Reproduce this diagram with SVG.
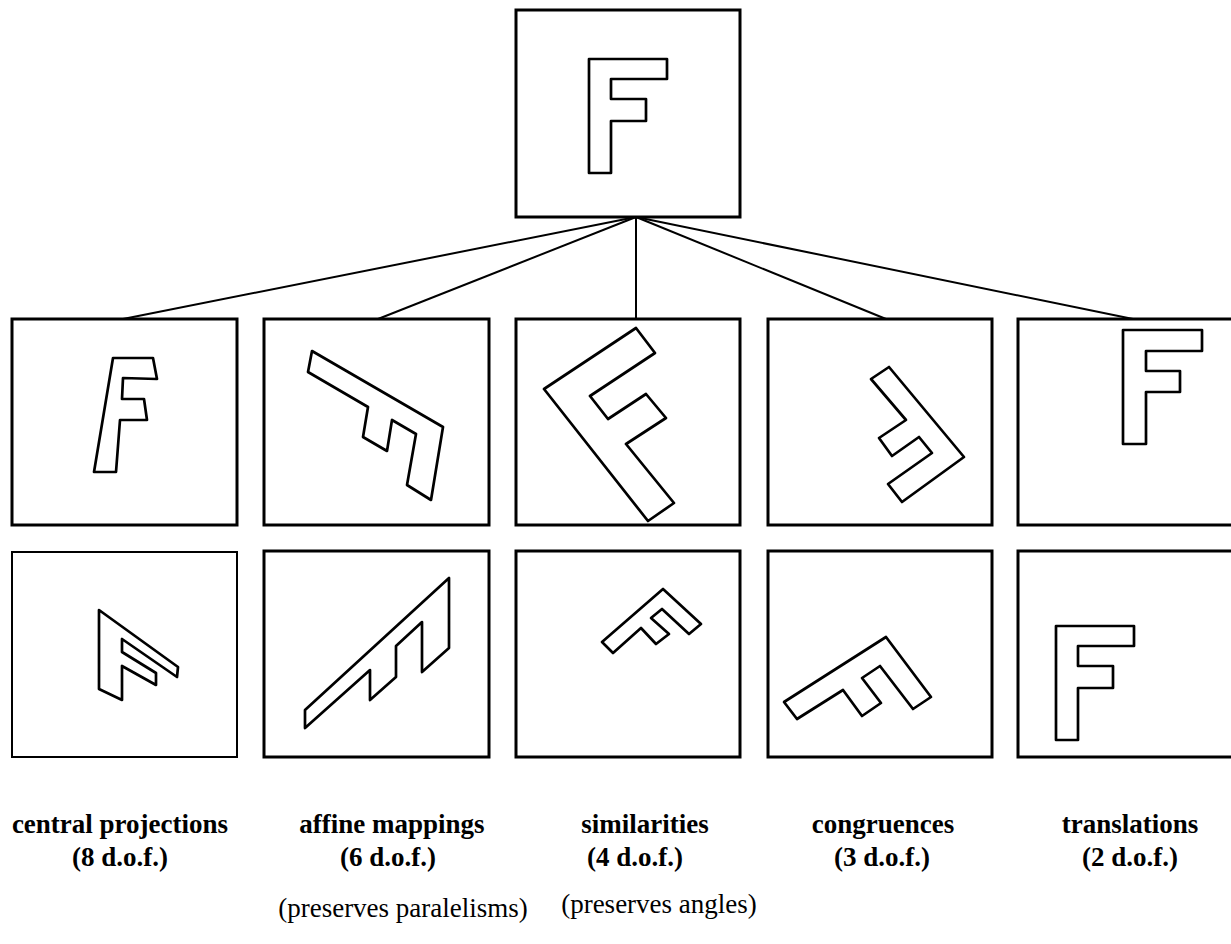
<svg xmlns="http://www.w3.org/2000/svg" width="1231" height="944" viewBox="0 0 1231 944">
<style>
.box{fill:#fff;stroke:#000;stroke-width:3}
.thin{stroke-width:2}
.f{fill:none;stroke:#000;stroke-width:2.7;stroke-linejoin:round}
.con{stroke:#000;stroke-width:2;fill:none}
.lb{font-size:27px;font-weight:bold;text-anchor:middle}
.nt{font-size:27px;text-anchor:middle}
</style>
<rect width="1231" height="944" fill="#fff"/>
<g id="connectors">
<line class="con" x1="636" y1="217" x2="123" y2="319"/>
<line class="con" x1="636" y1="217" x2="378" y2="319"/>
<line class="con" x1="636" y1="217" x2="636" y2="319"/>
<line class="con" x1="636" y1="217" x2="886" y2="319"/>
<line class="con" x1="636" y1="217" x2="1133" y2="319"/>
</g>
<g id="original">
<rect class="box" x="516" y="10" width="224" height="207"/>
<polygon class="f" points="589,59 667,59 667,79 611,79 611,99 646,99 646,121 611,121 611,173 589,173"/>
</g>
<g id="central-projection-1">
<rect class="box" x="12" y="319" width="225" height="206"/>
<polygon class="f" points="113,358 153,358 157,379 123,378 122,399 144,399 147,420 120,420 116,472 94,472"/>
</g>
<g id="affine-1">
<rect class="box" x="264" y="319" width="225" height="206"/>
<polygon class="f" points="312,351 443,427 431,500 407,485 416,434 392,420 387,451 363,437 368,407 308,372"/>
</g>
<g id="similarity-1">
<rect class="box" x="516" y="319" width="224" height="206"/>
<polygon class="f" points="636,328 655,353 590,396 608,419 646,394 666,418 626,444 674,503 648,521 544,389"/>
</g>
<g id="congruence-1">
<rect class="box" x="768" y="319" width="224" height="206"/>
<polygon class="f" points="889,367 964,457 902,502 888,484 932,453 919,437 892,456 879,438 906,420 871,379"/>
</g>
<g id="translation-1">
<rect class="box" x="1018" y="319" width="224" height="206"/>
<polygon class="f" points="1123,330 1202,330 1202,351 1146,351 1146,371 1180,371 1180,392 1146,392 1146,444 1123,444"/>
</g>
<g id="central-projection-2">
<rect class="box thin" x="12" y="552" width="225" height="205"/>
<polygon class="f" points="99,610 178,667 177,677 122,639 122,652 156,673 156,685 122,666 122,700 99,689"/>
</g>
<g id="affine-2">
<rect class="box" x="264" y="551" width="225" height="206"/>
<polygon class="f" points="449,578 449,648 422,672 422,622 396,646 396,677 370,700 370,670 305,728 305,710"/>
</g>
<g id="similarity-2">
<rect class="box" x="516" y="551" width="224" height="206"/>
<polygon class="f" points="663,589 701,624 689,634 662,609 651,618 669,634 656,644 641,628 613,653 602,642"/>
</g>
<g id="congruence-2">
<rect class="box" x="768" y="551" width="224" height="206"/>
<polygon class="f" points="886,637 931,697 913,709 880,666 862,678 881,703 862,716 843,690 797,719 784,702"/>
</g>
<g id="translation-2">
<rect class="box" x="1018" y="551" width="224" height="206"/>
<polygon class="f" points="1056,626 1134,626 1134,646 1078,646 1078,666 1113,666 1113,688 1078,688 1078,740 1056,740"/>
</g>
<g id="labels" font-family="'Liberation Serif', 'DejaVu Serif', serif">
<text class="lb" x="120" y="833">central projections</text>
<text class="lb" x="120" y="866">(8 d.o.f.)</text>
<text class="lb" x="392" y="833">affine mappings</text>
<text class="lb" x="388" y="866">(6 d.o.f.)</text>
<text class="lb" x="645" y="833">similarities</text>
<text class="lb" x="635" y="866">(4 d.o.f.)</text>
<text class="lb" x="883" y="833">congruences</text>
<text class="lb" x="882" y="866">(3 d.o.f.)</text>
<text class="lb" x="1130" y="833">translations</text>
<text class="lb" x="1130" y="866">(2 d.o.f.)</text>
<text class="nt" x="403" y="917">(preserves paralelisms)</text>
<text class="nt" x="659" y="913">(preserves angles)</text>
</g>
</svg>
